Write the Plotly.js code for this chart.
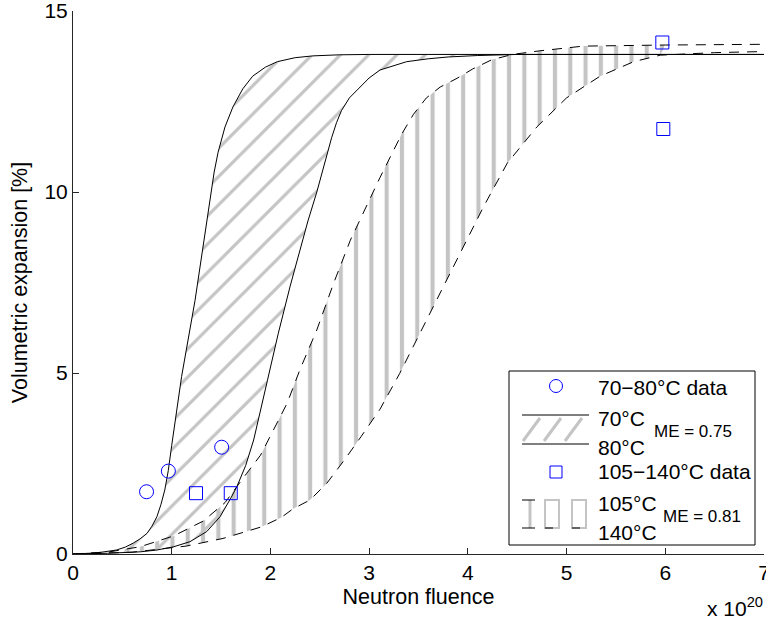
<!DOCTYPE html>
<html>
<head>
<meta charset="utf-8">
<script src="https://cdn.plot.ly/plotly-3.0.1.min.js"></script>
<style>html,body{margin:0;padding:0;background:#fff;}#chart{width:766px;height:626px;}</style>
</head>
<body>
<div id="chart"></div>
<script>
// ---- data (fluence in units of 1e20) ----
const fluence70 = [0, 0.24, 0.44, 0.53, 0.61, 0.68, 0.75, 0.8, 0.85, 0.89, 0.93, 0.965, 1.0, 1.1, 1.236, 1.354, 1.395, 1.43, 1.47, 1.54, 1.62, 1.72, 1.82, 1.95, 2.07, 2.25, 2.43, 2.7, 3.0, 7];
const expansion70 = [0, 0.03, 0.11, 0.19, 0.3, 0.42, 0.57, 0.77, 1.03, 1.36, 1.77, 2.3, 3.0, 4.9, 7.0, 9.2, 9.95, 10.55, 11.1, 11.8, 12.35, 12.85, 13.2, 13.45, 13.6, 13.71, 13.76, 13.79, 13.8, 13.8];

const fluence80 = [0, 0.35, 0.68, 0.85, 1.02, 1.185, 1.355, 1.49, 1.6, 1.66, 1.75, 1.83, 1.97, 2.08, 2.2, 2.38, 2.47, 2.57, 2.62, 2.67, 2.72, 2.8, 2.91, 3.0, 3.11, 3.25, 3.38, 3.6, 3.8, 4.1, 4.5, 7];
const expansion80 = [0, 0.02, 0.06, 0.11, 0.2, 0.34, 0.62, 1.03, 1.55, 1.86, 2.45, 3.15, 4.8, 6.1, 7.4, 9.2, 10.0, 11.0, 11.5, 11.92, 12.25, 12.6, 12.9, 13.15, 13.37, 13.5, 13.6, 13.68, 13.73, 13.77, 13.8, 13.8];

const fluence105 = [0, 0.37, 0.68, 1.02, 1.32, 1.54, 1.76, 1.9, 2.17, 2.3, 2.47, 2.64, 2.81, 2.97, 3.11, 3.33, 3.45, 3.58, 3.72, 3.89, 4.05, 4.24, 4.45, 4.73, 5.17, 6.0, 7];
const expansion105 = [0, 0.06, 0.2, 0.5, 0.91, 1.42, 2.23, 2.73, 4.17, 5.1, 6.19, 7.48, 8.67, 9.6, 10.4, 11.6, 12.15, 12.6, 12.9, 13.14, 13.4, 13.65, 13.8, 13.9, 14.03, 14.06, 14.08];

const fluence140 = [0, 0.6, 1.15, 1.52, 1.91, 2.11, 2.23, 2.4, 2.57, 2.75, 2.92, 3.11, 3.31, 3.53, 3.75, 3.95, 4.16, 4.4, 4.7, 5.0, 5.34, 5.68, 5.95, 6.5, 7];
const expansion140 = [0, 0.05, 0.22, 0.43, 0.75, 1.01, 1.25, 1.49, 1.95, 2.6, 3.25, 4.0, 4.99, 6.19, 7.38, 8.44, 9.6, 10.8, 11.8, 12.6, 13.2, 13.6, 13.78, 13.85, 13.88];

const data70Fluence = [0.745, 0.966, 1.506];
const data70Expansion = [1.72, 2.29, 2.95];
const data105Fluence = [1.246, 1.598, 5.97, 5.98];
const data105Expansion = [1.68, 1.68, 14.13, 11.74];

const xTicks = [0, 1, 2, 3, 4, 5, 6, 7];
const yTicks = [0, 5, 10, 15];

// hatched band of the 105-140 fit is shown over the measured fluence span only
const hatchLimit = 6.0;
function upTo(xs, ys, lim) {
  const ox = [], oy = [];
  xs.forEach((v, i) => { if (v <= lim) { ox.push(v); oy.push(ys[i]); } });
  return [ox, oy];
}
const [c105x, c105y] = upTo(fluence105, expansion105, hatchLimit);
const [c140x, c140y] = upTo(fluence140, expansion140, hatchLimit);

const FONT = 'Liberation Sans, Arial, Helvetica, sans-serif';
const none = {width: 0};

const traces = [
  {x: fluence70, y: expansion70, mode: 'lines', line: none, showlegend: false, hoverinfo: 'skip'},
  {x: fluence80, y: expansion80, mode: 'lines', line: none, fill: 'tonexty', fillcolor: 'rgba(0,0,0,0)',
   fillpattern: {shape: '/', fgcolor: '#c4c4c4', bgcolor: 'rgba(0,0,0,0)', size: 20, solidity: 0.16},
   showlegend: false, hoverinfo: 'skip'},
  {x: c105x, y: c105y, mode: 'lines', line: none, showlegend: false, hoverinfo: 'skip'},
  {x: c140x, y: c140y, mode: 'lines', line: none, fill: 'tonexty', fillcolor: 'rgba(0,0,0,0)',
   fillpattern: {shape: '|', fgcolor: '#c4c4c4', bgcolor: 'rgba(0,0,0,0)', size: 15.3, solidity: 0.27},
   showlegend: false, hoverinfo: 'skip'},
  {x: fluence70, y: expansion70, mode: 'lines', line: {color: '#000', width: 1}, name: '70°C'},
  {x: fluence80, y: expansion80, mode: 'lines', line: {color: '#000', width: 1}, name: '80°C'},
  {x: fluence105, y: expansion105, mode: 'lines', line: {color: '#000', width: 1, dash: '10px,8px'}, name: '105°C'},
  {x: fluence140, y: expansion140, mode: 'lines', line: {color: '#000', width: 1, dash: '10px,8px'}, name: '140°C'},
  {x: data70Fluence, y: data70Expansion, mode: 'markers', name: '70−80°C data',
   marker: {symbol: 'circle-open', size: 14, color: '#0000ff', line: {width: 1, color: '#0000ff'}}},
  {x: data105Fluence, y: data105Expansion, mode: 'markers', name: '105−140°C data', cliponaxis: false,
   marker: {symbol: 'square-open', size: 13, color: '#0000ff', line: {width: 1, color: '#0000ff'}}}
];

// ---- hand-drawn legend (pixel positions converted to paper coords) ----
const M = {l: 73, r: 2, t: 11, b: 72};
const PW = 766 - M.l - M.r, PH = 626 - M.t - M.b;
const px = v => (v - M.l) / PW;
const py = v => (M.t + PH - v) / PH;
const P = {xref: 'paper', yref: 'paper'};
function seg(x0, y0, x1, y1, color, width) {
  return Object.assign({type: 'line', x0: px(x0), x1: px(x1), y0: py(y0), y1: py(y1), line: {color: color, width: width}}, P);
}
function box(type, x0, y0, x1, y1, color, width, fill) {
  return Object.assign({type: type, x0: px(x0), x1: px(x1), y0: py(y1), y1: py(y0), line: {color: color, width: width},
    fillcolor: fill || 'rgba(0,0,0,0)'}, P);
}

const shapes = [
  box('rect', 509, 371, 755, 545, '#000', 1, '#fff'),
  box('circle', 549.5, 379.5, 562.5, 392.5, '#0000ff', 1),
  // 70/80 swatch
  seg(522, 415, 589, 415, '#000', 1),
  seg(522, 444, 589, 444, '#000', 1),
  seg(523, 441, 540, 418, '#c4c4c4', 3),
  seg(544, 441, 561, 418, '#c4c4c4', 3),
  seg(565, 441, 582, 418, '#c4c4c4', 3),
  box('rect', 550, 466, 562, 478, '#0000ff', 1),
  // 105/140 swatch
  seg(530, 500, 530, 528, '#c4c4c4', 3),
  box('rect', 545, 500, 559, 528, '#c4c4c4', 2),
  box('rect', 572, 500, 586, 528, '#c4c4c4', 2),
  seg(522, 500, 535, 500, '#000', 1),
  seg(522, 528, 535, 528, '#000', 1),
  seg(545, 528, 553, 528, '#000', 1),
  seg(572, 528, 580, 528, '#000', 1)
];

function txt(text, x, y, size, opts) {
  return Object.assign({text: text, x: px(x), y: py(y), xanchor: 'left', yanchor: 'middle',
    showarrow: false, font: {family: FONT, size: size, color: '#000'}}, P, opts || {});
}
const annotations = [
  txt('70−80°C data', 596, 387, 21),
  txt('70°C', 596, 418, 21),
  txt('80°C', 596, 447, 21),
  txt('ME = 0.75', 652, 431, 17),
  txt('105−140°C data', 596, 472, 21),
  txt('105°C', 596, 503, 21),
  txt('140°C', 596, 532, 21),
  txt('ME = 0.81', 661, 516, 17),
  txt('x 10<sup>20</sup>', 765, 607, 21, {xanchor: 'right'})
];

const axisCommon = {
  ticks: 'inside', ticklen: 6, tickcolor: '#262626', showline: true, linecolor: '#262626', linewidth: 1,
  showgrid: false, zeroline: false, mirror: false, ticklabeloverflow: 'allow',
  tickfont: {family: FONT, size: 21}
};

const layout = {
  width: 766, height: 626,
  margin: M,
  paper_bgcolor: '#fff', plot_bgcolor: '#fff',
  showlegend: false,
  font: {family: FONT, size: 21, color: '#000'},
  xaxis: Object.assign({range: [0, 7], tickvals: xTicks, ticktext: xTicks.map(String),
    title: {text: 'Neutron fluence', font: {family: FONT, size: 21.5}, standoff: 5}}, axisCommon),
  yaxis: Object.assign({range: [0, 15], tickvals: yTicks, ticktext: yTicks.map(String),
    title: {text: 'Volumetric expansion [%]', font: {family: FONT, size: 21.5}, standoff: 10}}, axisCommon),
  shapes: shapes,
  annotations: annotations
};

Plotly.newPlot('chart', traces, layout, {staticPlot: true, displayModeBar: false});
</script>
</body>
</html>
